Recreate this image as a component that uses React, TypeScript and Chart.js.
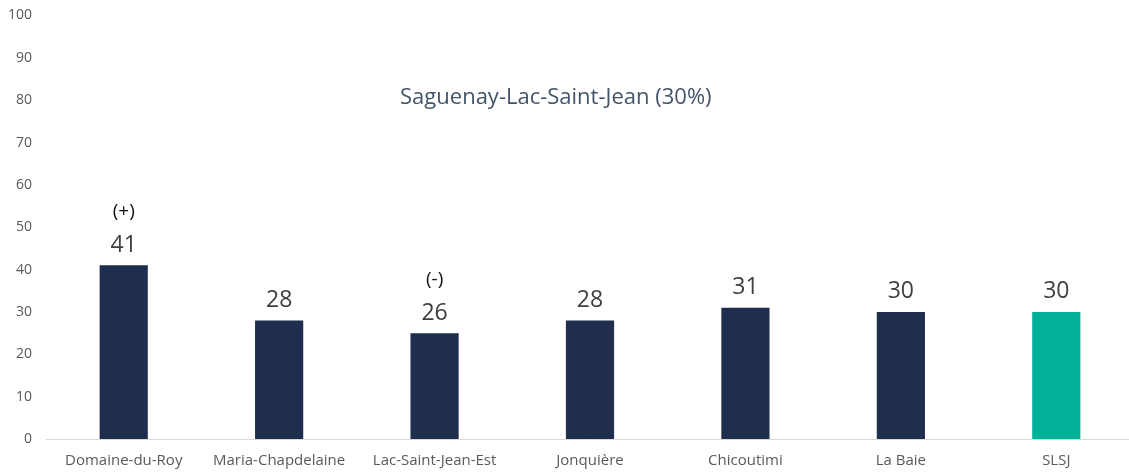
import React, { useEffect, useRef } from "react";
import { Chart, registerables } from "chart.js";

Chart.register(...registerables);

const categories = [
  "Domaine-du-Roy",
  "Maria-Chapdelaine",
  "Lac-Saint-Jean-Est",
  "Jonquière",
  "Chicoutimi",
  "La Baie",
  "SLSJ",
];
const barValues = [41, 28, 25, 28, 31, 30, 30];
const valueLabels = ["41", "28", "26", "28", "31", "30", "30"];
const significance = ["(+)", "", "(-)", "", "", "", ""];
const barColors = ["#1f2d4e", "#1f2d4e", "#1f2d4e", "#1f2d4e", "#1f2d4e", "#1f2d4e", "#00b09b"];
const regionNote = "Saguenay-Lac-Saint-Jean (30%)";
const regionNoteX = 2.78;
const regionNoteY = 80.7;

const FONT = "'Open Sans', 'Noto Sans', sans-serif";

const labelPlugin = {
  id: "labels",
  afterDatasetsDraw(chart: any) {
    const ctx = chart.ctx;
    const meta = chart.getDatasetMeta(0);
    ctx.save();
    ctx.textAlign = "center";
    ctx.textBaseline = "middle";
    meta.data.forEach((bar: any, i: number) => {
      ctx.font = `23px ${FONT}`;
      ctx.fillStyle = "#404040";
      ctx.fillText(valueLabels[i], bar.x, bar.y - 20);
      if (significance[i]) {
        ctx.font = `19px ${FONT}`;
        ctx.fillStyle = "#111111";
        ctx.fillText(significance[i], bar.x, bar.y - 54);
      }
    });
    const xs = chart.scales.x;
    const ys = chart.scales.y;
    ctx.font = `22px ${FONT}`;
    ctx.fillStyle = "#44546a";
    ctx.fillText(regionNote, xs.getPixelForValue(regionNoteX), ys.getPixelForValue(regionNoteY));
    ctx.restore();
  },
};

export default function App() {
  const ref = useRef<HTMLCanvasElement>(null);
  useEffect(() => {
    document.body.style.margin = "0";
    const chart = new Chart(ref.current!, {
      type: "bar",
      data: {
        labels: categories,
        datasets: [
          {
            data: barValues,
            backgroundColor: barColors,
            barPercentage: 0.31,
            categoryPercentage: 1,
          },
        ],
      },
      options: {
        animation: false,
        responsive: false,
        layout: { padding: { top: 15.5, right: 0, bottom: 0, left: 0 } },
        plugins: { legend: { display: false }, tooltip: { enabled: false } },
        scales: {
          x: {
            grid: { display: false, drawTicks: false },
            border: { display: true, color: "#d9d9d9", width: 1 },
            ticks: {
              color: "#595959",
              font: { family: FONT, size: 15 },
              padding: 13,
              maxRotation: 0,
              autoSkip: false,
            },
            afterFit(scale: any) {
              scale.height = 34;
              scale.paddingLeft = 0;
              scale.paddingRight = 0;
            },
          },
          y: {
            min: 0,
            max: 100,
            grid: { display: false, drawTicks: false },
            border: { display: false },
            ticks: {
              stepSize: 10,
              color: "#595959",
              font: { family: FONT, size: 14 },
              padding: 14,
            },
            afterFit(scale: any) {
              scale.width = 46;
              scale.paddingTop = 0;
              scale.paddingBottom = 0;
            },
          },
        },
      },
      plugins: [labelPlugin],
    });
    return () => chart.destroy();
  }, []);
  return (
    <div style={{ position: "absolute", left: 0, top: 0, width: 1129, height: 473, overflow: "hidden", background: "#fff" }}>
      <canvas ref={ref} width={1134} height={473} style={{ display: "block" }} />
    </div>
  );
}
